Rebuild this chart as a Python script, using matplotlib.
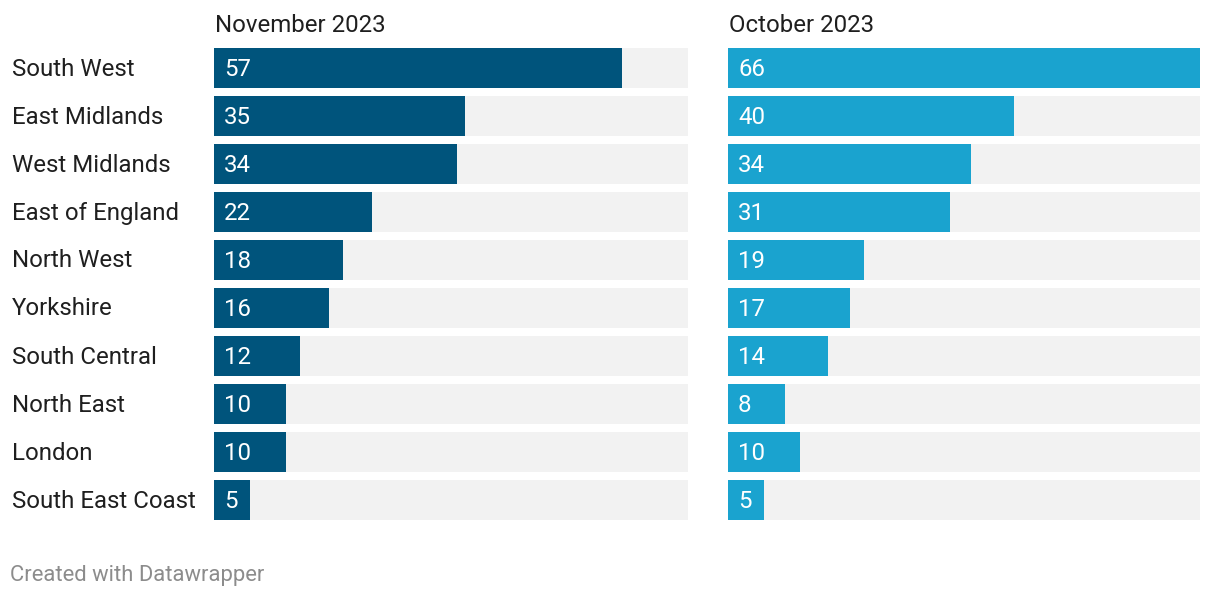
import matplotlib
matplotlib.use("Agg")
import matplotlib.pyplot as plt

regions = ["South West", "East Midlands", "West Midlands", "East of England", "North West",
           "Yorkshire", "South Central", "North East", "London", "South East Coast"]
november = [57, 35, 34, 22, 18, 16, 12, 10, 10, 5]
october = [66, 40, 34, 31, 19, 17, 14, 8, 10, 5]
titles = ["November 2023", "October 2023"]

DARK = "#00547c"
LIGHT = "#1aa3cf"
BG = "#f2f2f2"
INK = "#1f1f1f"
FONT = "Roboto"
FS = 17.3

W, H = 1220, 596
fig = plt.figure(figsize=(W / 100, H / 100), dpi=100)

ypos = list(range(len(regions)))
# left edge px, width px, values, colour, scale max
panels = [(214, 474, november, DARK, 66.2), (728, 472, october, LIGHT, 66.0)]

for i, (x0, w, vals, col, vmax) in enumerate(panels):
    ax = fig.add_axes([x0 / W, 1 - 524 / H, w / W, 480 / H])
    ax.barh(ypos, [vmax] * len(ypos), height=40 / 48, color=BG, lw=0)
    ax.barh(ypos, vals, height=40 / 48, color=col, lw=0)
    for y, v in zip(ypos, vals):
        ax.text(1.4, y + 0.03, str(v), va="center", ha="left",
                color="white", fontsize=FS, family=FONT)
    ax.set_xlim(0, vmax)
    ax.set_ylim(len(regions) - 0.5, -0.5)
    ax.axis("off")
    fig.text((x0 + 1) / W, 1 - 25.5 / H, titles[i], ha="left", va="center",
             fontsize=FS, color=INK, family=FONT)

for y, name in zip(ypos, regions):
    fig.text(12 / W, 1 - (69 + 48 * y) / H, name, ha="left", va="center",
             fontsize=FS, color=INK, family=FONT)

fig.text(10 / W, 1 - 575.5 / H, "Created with Datawrapper", ha="left", va="center",
         fontsize=15.8, color="#8c8c8c", family=FONT)

fig.savefig("out.png", dpi=100, facecolor="white")
